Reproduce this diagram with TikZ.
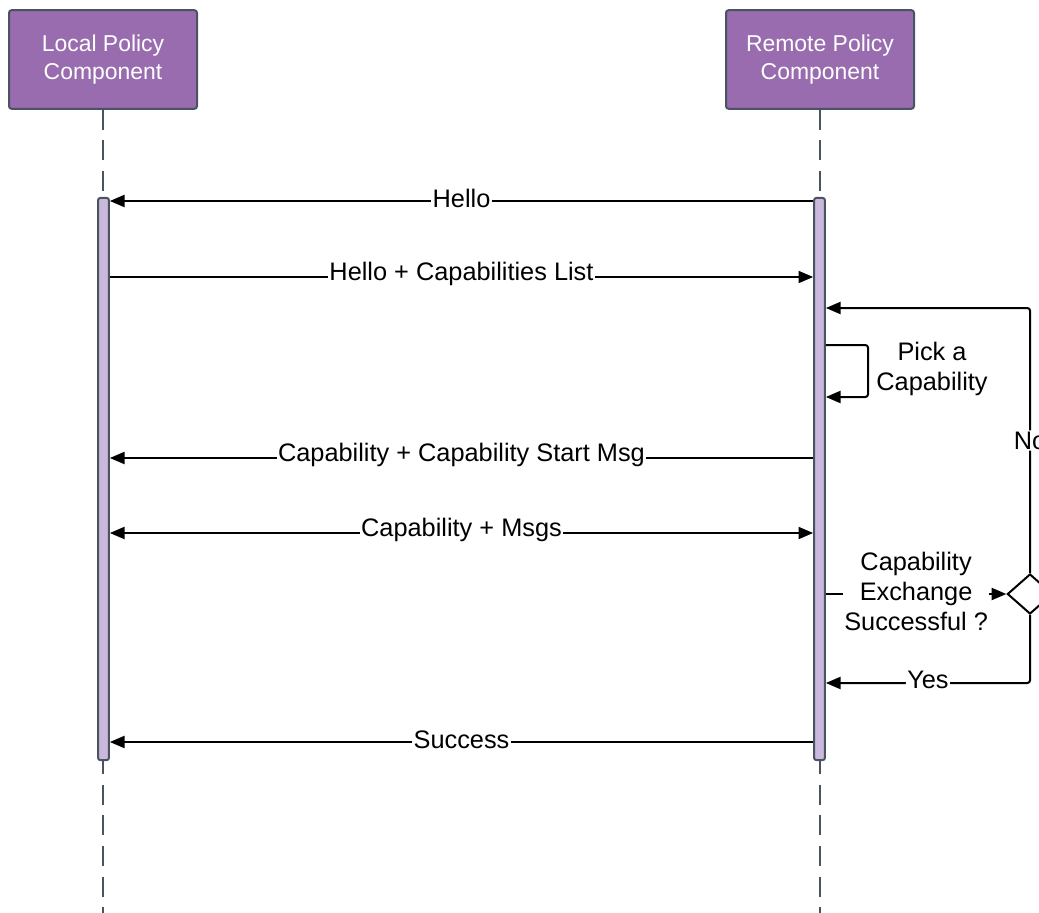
\documentclass[tikz,border=0pt]{standalone}
\usepackage{fontspec}
\setmainfont{Liberation Sans}
\usetikzlibrary{arrows.meta,shapes.geometric}
\definecolor{headfill}{RGB}{152,108,174}
\definecolor{barfill}{RGB}{203,185,221}
\definecolor{edgegray}{RGB}{74,84,96}

\begin{document}
\begin{tikzpicture}[x=0.75pt,y=-0.75pt,
  head/.style={draw=edgegray, line width=1.5pt, fill=headfill, rounded corners=2pt,
    minimum width=141pt, minimum height=74pt, text=white, align=center,
    font=\fontsize{17.2}{21}\selectfont},
  actbar/.style={draw=edgegray, line width=1.5pt, fill=barfill, rounded corners=1.5pt,
    minimum width=8pt, minimum height=421.5pt, inner sep=0pt},
  lifeline/.style={draw=edgegray, line width=1.5pt, dash pattern=on 15pt off 8pt},
  msg/.style={line width=1.5pt, -{Triangle[length=11pt,width=9pt]}},
  dmsg/.style={line width=1.5pt, {Triangle[length=11pt,width=9pt]}-{Triangle[length=11pt,width=9pt]}},
  lbl/.style={fill=white, inner sep=1pt, align=center,
    font=\fontsize{19}{22.5}\selectfont},
  onlbl/.style={lbl, yshift=2pt},
  decision/.style={shape=diamond, draw=black, line width=1.5pt, fill=white,
    inner sep=0pt, minimum width=34pt, minimum height=30pt}
]
\useasboundingbox (0,0) rectangle (1039,913);

% participants
\node[head] (local)  at (103,59.5) {Local Policy\\Component};
\node[head] (remote) at (820,59.5) {Remote Policy\\Component};

% lifelines
\coordinate (localend)  at (103,913);
\coordinate (remoteend) at (820,913);
\draw[lifeline] (local.south) -- (localend);
\draw[lifeline] (remote.south) -- (remoteend);

% activation bars
\node[actbar] (lbar) at (103.5,479) {};
\node[actbar] (rbar) at (819.5,479) {};

% decision
\node[decision] (dia) at (1030,594) {};

% messages
\draw[msg] (rbar.west |- 0,201) -- node[onlbl]{Hello} (lbar.east |- 0,201);
\draw[msg] (lbar.east |- 0,277) -- node[onlbl]{Hello + Capabilities List} (rbar.west |- 0,277);

% self message
\draw[msg, rounded corners=2pt] (rbar.east |- 0,345) -| (868,397) -- (rbar.east |- 0,397);
\node[lbl, inner sep=0pt] (pick) at (932,369) {Pick a\\Capability};

\draw[msg] (rbar.west |- 0,458) -- node[onlbl]{Capability + Capability Start Msg} (lbar.east |- 0,458);
\draw[dmsg] (lbar.east |- 0,533) -- node[onlbl]{Capability + Msgs} (rbar.west |- 0,533);

% capability check
\draw[msg] (rbar.east |- 0,594) -- node[onlbl]{Capability\\Exchange\\Successful ?} (dia.west);
\draw[msg, rounded corners=2pt] (dia.north) -- node[lbl]{No} (dia.north |- 0,308) -- (rbar.east |- 0,308);
\draw[msg, rounded corners=2pt] (dia.south) |- node[onlbl, pos=0.75]{Yes} (rbar.east |- 0,683);

\draw[msg] (rbar.west |- 0,742) -- node[onlbl]{Success} (lbar.east |- 0,742);
\end{tikzpicture}
\end{document}
